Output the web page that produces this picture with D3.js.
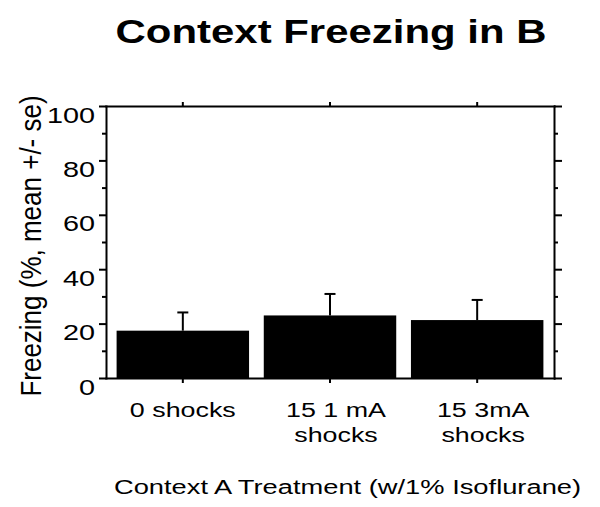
<!DOCTYPE html>
<html>
<head>
<meta charset="utf-8">
<script src="https://cdn.jsdelivr.net/npm/d3@7"></script>
<style>
  html, body { margin: 0; padding: 0; background: #fff; }
  svg { display: block; }
  text { font-family: "Liberation Sans", Arial, sans-serif; fill: #000; }
</style>
</head>
<body>
<script>
// ---- data ----
const categories = ["0 shocks", "15 1 mA shocks", "15 3mA shocks"];
const categoryLines = [["0 shocks"], ["15 1 mA", "shocks"], ["15 3mA", "shocks"]];
const means = [17.4, 23.0, 21.3];
const errors = [6.7, 7.9, 7.4];
const yTicks = [0, 20, 40, 60, 80, 100];
const yMinorTicks = [10, 30, 50, 70, 90];
const titleText = "Context Freezing in B";
const xTitleText = "Context A Treatment (w/1% Isoflurane)";
const yTitleText = "Freezing (%, mean +/- se)";

// ---- layout ----
const W = 600, H = 507;
const L = 106, R = 554, T = 106, B = 378;
const SX = 1.31; // horizontal stretch of the original figure

const svg = d3.select("body").append("svg").attr("width", W).attr("height", H);

const x = d3.scaleBand().domain(categories).range([L, R]).paddingInner(0.1).paddingOuter(0.072);
const y = d3.scaleLinear().domain([0, 100]).range([B, T]);

function styleAxis(g) {
  g.selectAll("path.domain").attr("stroke", "#000").attr("stroke-width", 2).attr("stroke-linecap", "square");
  g.selectAll(".tick line").attr("stroke", "#000").attr("stroke-width", 2);
  g.selectAll(".tick text").remove();
}

// bars
svg.append("g").selectAll("rect").data(categories).join("rect")
  .attr("x", d => x(d))
  .attr("width", x.bandwidth())
  .attr("y", (d, i) => y(means[i]))
  .attr("height", (d, i) => y(0) - y(means[i]))
  .attr("fill", "#000");

// error bars (upward only)
const eg = svg.append("g").attr("stroke", "#000").attr("stroke-width", 2);
categories.forEach((c, i) => {
  const cx = x(c) + x.bandwidth() / 2;
  eg.append("line").attr("x1", cx).attr("x2", cx).attr("y1", y(means[i])).attr("y2", y(means[i] + errors[i]));
  eg.append("line").attr("x1", cx - 5.5).attr("x2", cx + 5.5).attr("y1", y(means[i] + errors[i])).attr("y2", y(means[i] + errors[i]));
});

// axes
svg.append("g").attr("transform", `translate(${L},0)`)
  .call(d3.axisLeft(y).tickValues(yTicks).tickSize(7).tickSizeOuter(0).tickFormat(""))
  .call(styleAxis);
svg.append("g").attr("transform", `translate(${L},0)`)
  .call(d3.axisLeft(y).tickValues(yMinorTicks).tickSize(4).tickSizeOuter(0).tickFormat(""))
  .call(styleAxis).call(g => g.select("path.domain").remove());
svg.append("g").attr("transform", `translate(${R},0)`)
  .call(d3.axisRight(y).tickValues(yTicks).tickSize(8).tickSizeOuter(0).tickFormat(""))
  .call(styleAxis);
svg.append("g").attr("transform", `translate(${R},0)`)
  .call(d3.axisRight(y).tickValues(yMinorTicks).tickSize(4).tickSizeOuter(0).tickFormat(""))
  .call(styleAxis).call(g => g.select("path.domain").remove());
svg.append("g").attr("transform", `translate(0,${B})`)
  .call(d3.axisBottom(x).tickSize(5).tickSizeOuter(0).tickFormat(""))
  .call(styleAxis);
svg.append("g").attr("transform", `translate(0,${T})`)
  .call(d3.axisTop(x).tickSize(4).tickSizeOuter(0).tickFormat(""))
  .call(styleAxis);

// stretched text helper
function addText(str, tx, ty, size, anchor, opts = {}) {
  const sx = opts.sx ?? SX, sy = opts.sy ?? 1, rot = opts.rotate ?? 0;
  return svg.append("text")
    .attr("transform", `translate(${tx},${ty}) rotate(${rot}) scale(${sx},${sy})`)
    .attr("text-anchor", anchor)
    .attr("font-size", size)
    .attr("font-weight", opts.weight || "normal")
    .text(str);
}

// y tick labels
yTicks.forEach(v => addText(String(v), 95, y(v) + 16.5, 22, "end"));

// x tick labels
categories.forEach((c, i) => {
  const cx = x(c) + x.bandwidth() / 2 + (i === 0 ? 0 : 6);
  categoryLines[i].forEach((line, j) => addText(line, cx, 417 + j * 24.5, 20.5, "middle"));
});

// titles
addText(titleText, 331, 43, 32.5, "middle", { weight: "bold", sx: 1.29 });
addText(xTitleText, 347.5, 494, 21, "middle", { sx: 1.3 });
addText(yTitleText, 41, 246, 25.5, "middle", { rotate: -90, sx: 1.02, sy: 1.12 });
</script>
</body>
</html>
